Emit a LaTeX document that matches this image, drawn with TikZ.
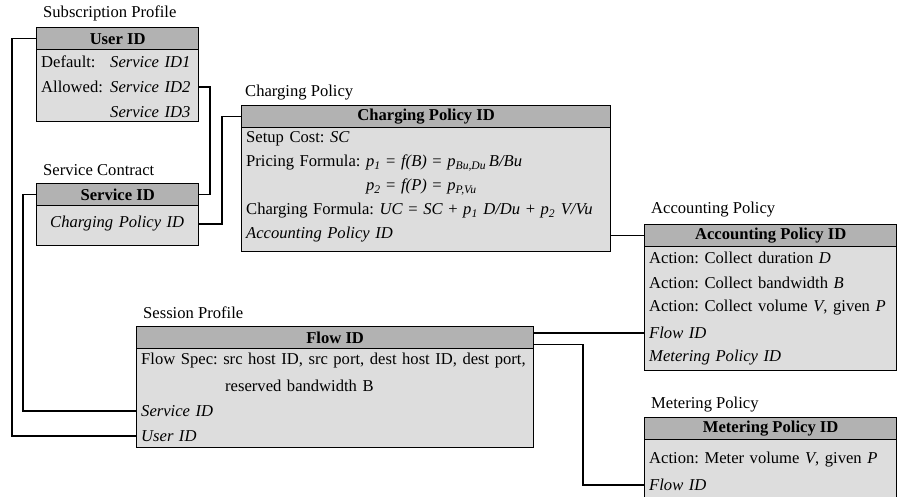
\documentclass[tikz,border=0pt]{standalone}
\usepackage{fontspec}
\setmainfont{Liberation Serif}
\usetikzlibrary{calc}
\definecolor{hdrgray}{RGB}{178,178,178}
\definecolor{bodygray}{RGB}{221,221,221}
\newcommand{\sbi}[1]{\textsubscript{\textit{#1}}}
\newcommand{\fs}{\fontsize{16.6}{20}\selectfont\frenchspacing}
\begin{document}
\begin{tikzpicture}[x=1pt,y=-1pt,font=\fs,
  hdr/.style={draw, fill=hdrgray, line width=1.3pt, anchor=north west, minimum height=22pt, inner sep=0pt, font=\fs\bfseries},
  bodybox/.style={draw, fill=bodygray, line width=1.3pt, anchor=north west, inner sep=0pt},
  row/.style={anchor=west, inner xsep=5pt, inner ysep=0pt, align=left},
  crow/.style={anchor=west, inner xsep=5pt, inner ysep=0pt, align=center},
  ttl/.style={anchor=west, inner sep=0pt},
  link/.style={line width=1.2pt}]
\clip (0,0) rectangle (897,497);
\fill[white] (0,0) rectangle (897,497);
% ---------- Subscription Profile
\node[ttl] (subT) at (43,13) {Subscription Profile};
\node[bodybox, minimum width=162pt, minimum height=72pt] (subB) at (36,49) {};
\node[hdr, minimum width=162pt] (subHdr) at (36,27) {User ID};
\node[row, text width=152pt] (subDef) at (36,62) {\mbox{\makebox[69pt][l]{Default:}\textit{Service ID1}}};
\node[row, text width=152pt] (subAll) at (36,87) {\mbox{\makebox[69pt][l]{Allowed:}\textit{Service ID2}}};
\node[row, text width=152pt] (subS3) at (36,112) {\mbox{\hspace*{69pt}\textit{Service ID3}}};
% ---------- Service Contract
\node[ttl] (svcT) at (43,170) {Service Contract};
\node[bodybox, minimum width=162pt, minimum height=40pt] (svcB) at (36,205) {};
\node[hdr, minimum width=162pt] (svcHdr) at (36,183) {Service ID};
\node[crow, text width=152pt] (svcRow) at (36,224) {\textit{Charging Policy ID}};
% ---------- Charging Policy
\node[ttl] (chgT) at (245,93) {Charging Policy};
\node[bodybox, minimum width=369pt, minimum height=124pt] (chgB) at (241,127) {};
\node[hdr, minimum width=369pt] (chgHdr) at (241,105) {Charging Policy ID};
\node[row, text width=359pt] (chgSet) at (241,139) {\mbox{Setup Cost: \textit{SC}}};
\node[row, text width=359pt] (chgP1) at (241,163) {\mbox{Pricing Formula: \textit{p}\sbi{1} = \textit{f(B)} = \textit{p}\sbi{Bu,Du}\,\textit{B/Bu}}};
\node[row, text width=359pt] (chgP2) at (241,187) {\mbox{\phantom{Pricing Formula: }\textit{p}\sbi{2} = \textit{f(P)} = \textit{p}\sbi{P,Vu}}};
\node[row, text width=359pt] (chgUC) at (241,211) {\mbox{Charging Formula: \textit{UC} = \textit{SC} + \textit{p}\sbi{1} \textit{D/Du} + \textit{p}\sbi{2} \textit{V/Vu}}};
\node[row, text width=359pt] (chgAcc) at (241,235) {\textit{Accounting Policy ID}};
% ---------- Accounting Policy
\node[ttl] (accT) at (651,210) {Accounting Policy};
\node[bodybox, minimum width=252pt, minimum height=124pt] (accB) at (644,246) {};
\node[hdr, minimum width=252pt] (accHdr) at (644,224) {Accounting Policy ID};
\node[row, text width=242pt] (accD) at (644,258) {\mbox{Action: Collect duration \textit{D}}};
\node[row, text width=242pt] (accBw) at (644,283) {\mbox{Action: Collect bandwidth \textit{B}}};
\node[row, text width=242pt] (accV) at (644,308) {\mbox{Action: Collect volume \textit{V}, given \textit{P}}};
\node[row, text width=242pt] (accFlow) at (644,333) {\textit{Flow ID}};
\node[row, text width=242pt] (accMet) at (644,358) {\textit{Metering Policy ID}};
% ---------- Session Profile
\node[ttl] (sesT) at (143,313) {Session Profile};
\node[bodybox, minimum width=397pt, minimum height=99pt] (sesB) at (136,348) {};
\node[hdr, minimum width=397pt] (sesHdr) at (136,326) {Flow ID};
\node[row, text width=387pt] (sesSpec) at (136,361) {\mbox{Flow Spec: src host ID, src port, dest host ID, dest port,}};
\node[row, text width=387pt] (sesRes) at (136,386) {\mbox{\hspace*{84pt}reserved bandwidth B}};
\node[row, text width=387pt] (sesSvc) at (136,411) {\textit{Service ID}};
\node[row, text width=387pt] (sesUser) at (136,436) {\textit{User ID}};
% ---------- Metering Policy
\node[ttl] (metT) at (651,405) {Metering Policy};
\node[bodybox, minimum width=252pt, minimum height=75pt] (metB) at (644,439) {};
\node[hdr, minimum width=252pt] (metHdr) at (644,417) {Metering Policy ID};
\node[row, text width=242pt] (metAct) at (644,460) {\mbox{Action: Meter volume \textit{V}, given \textit{P}}};
\node[row, text width=242pt] (metFlow) at (644,485) {\textit{Flow ID}};
% ---------- connectors
\coordinate (xA) at (12,0);
\coordinate (xB) at (210,0);
\coordinate (xC) at (23,0);
\coordinate (xD) at (222,0);
\coordinate (xE) at (583,0);
\coordinate (sesA) at ($(sesHdr.north east)+(0,7)$);
\coordinate (sesBb) at ($(sesHdr.south east)+(0,-5)$);
\draw[link] (subHdr.west) -- (subHdr.west -| xA) |- (sesUser.west);
\draw[link] (subAll.east) -- (subAll.east -| xB) |- (svcHdr.east);
\draw[link] (svcHdr.west) -- (svcHdr.west -| xC) |- (sesSvc.west);
\draw[link] (svcRow.east) -- (svcRow.east -| xD) |- (chgHdr.west);
\draw[link] (accHdr.west -| chgB.east) -- (accHdr.west);
\draw[link] (sesA) -- (sesA -| accFlow.west);
\draw[link] (sesBb) -- (sesBb -| xE) |- (metFlow.west);
\end{tikzpicture}
\end{document}
